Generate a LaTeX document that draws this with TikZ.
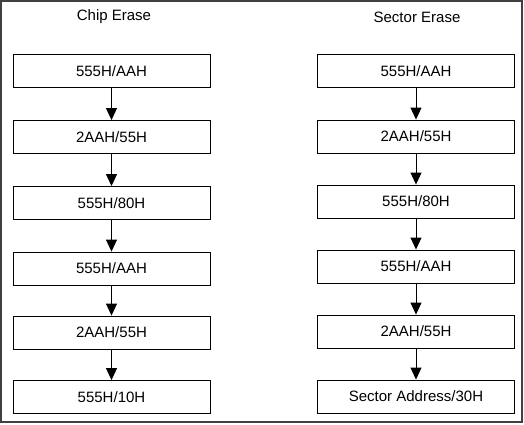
\documentclass[tikz,border=0pt]{standalone}
\usepackage{fontspec}
\setmainfont{Liberation Sans}
\usetikzlibrary{arrows.meta}
\begin{document}
\begin{tikzpicture}[x=1pt,y=-1pt,
  stepbox/.style={draw,line width=0.9pt,minimum width=197pt,minimum height=33pt,inner sep=0pt,font=\fontsize{15}{17}\selectfont},
  ttl/.style={font=\fontsize{15}{17}\selectfont},
  conn/.style={line width=0.9pt,-{Triangle[width=11pt,length=12pt]}}]
\useasboundingbox (0,0) rectangle (524,424);
\draw[line width=1.2pt,draw=black!75] (1,1) rectangle (522,422);
\node[ttl] (t1) at (114,17) {Chip Erase};
\node[ttl] (t2) at (417,17) {Sector Erase};
\node[stepbox] (a1) at (111.5,71) {555H/AAH};
\node[stepbox] (a2) at (111.5,137) {2AAH/55H};
\node[stepbox] (a3) at (111.5,203) {555H/80H};
\node[stepbox] (a4) at (111.5,268.5) {555H/AAH};
\node[stepbox] (a5) at (111.5,332.5) {2AAH/55H};
\node[stepbox] (a6) at (111.5,397) {555H/10H};
\node[stepbox] (b1) at (416,71) {555H/AAH};
\node[stepbox] (b2) at (416,136.5) {2AAH/55H};
\node[stepbox] (b3) at (416,201.5) {555H/80H};
\node[stepbox] (b4) at (416,266.5) {555H/AAH};
\node[stepbox] (b5) at (416,331.5) {2AAH/55H};
\node[stepbox] (b6) at (416,396.5) {Sector Address/30H};
\foreach \i/\j in {1/2,2/3,3/4,4/5,5/6}{
  \draw[conn] (a\i) -- (a\j);
  \draw[conn] (b\i) -- (b\j);
}
\end{tikzpicture}
\end{document}
